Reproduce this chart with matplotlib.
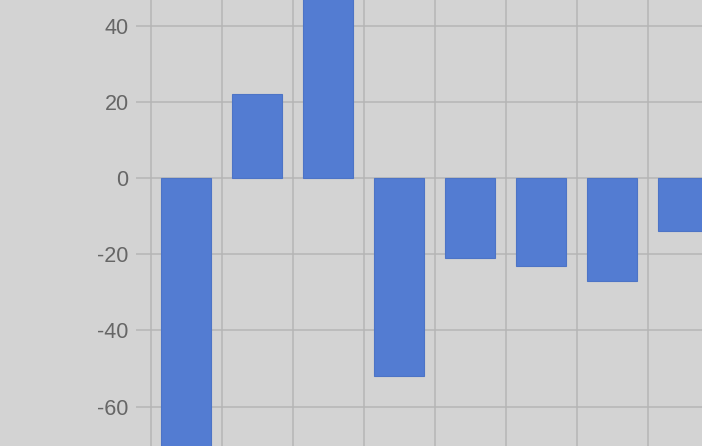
import matplotlib
matplotlib.use("Agg")
import matplotlib.pyplot as plt
import numpy as np

categories = ["A", "B", "C", "D", "E", "F", "G", "H"]
values = [-80, 22, 55, -52, -21, -23, -27, -14]
yticks = [-60, -40, -20, 0, 20, 40]

bg = "#d3d3d3"
grid_c = "#b5b5b5"
bar_c = "#537cd2"

fig = plt.figure(figsize=(7.02, 4.46), dpi=100, facecolor=bg)
ax = fig.add_axes([150.5 / 702, 0, 1 - 150.5 / 702, 1])
ax.set_facecolor(bg)

x = np.arange(len(categories))
ax.bar(x, values, width=0.71, color=bar_c, edgecolor="#4d74c6", linewidth=0.8, zorder=3)

ax.set_yticks(yticks)
ax.set_yticklabels([str(v) for v in yticks], fontsize=15.5, color="#666666",
                   family=["Liberation Sans", "DejaVu Sans"])
ax.tick_params(axis="y", length=10.8, width=1.1, color=grid_c, pad=5)
ax.yaxis.grid(True, color=grid_c, linewidth=1.1, zorder=0)

ax.set_xticks([])
ax.set_xticks(x + 0.5, minor=True)
ax.tick_params(axis="x", which="minor", length=0)
ax.xaxis.grid(True, which="minor", color=grid_c, linewidth=1.1, zorder=0)

ax.set_xlim(-0.5, (702 - 150.5) / 71 - 0.5)
ax.set_ylim(-70.3, 46.69)

for s in ["top", "right", "bottom"]:
    ax.spines[s].set_visible(False)
ax.spines["left"].set_color(grid_c)
ax.spines["left"].set_linewidth(1.1)
ax.set_axisbelow(True)

fig.savefig("out.png", dpi=100, facecolor=bg)
